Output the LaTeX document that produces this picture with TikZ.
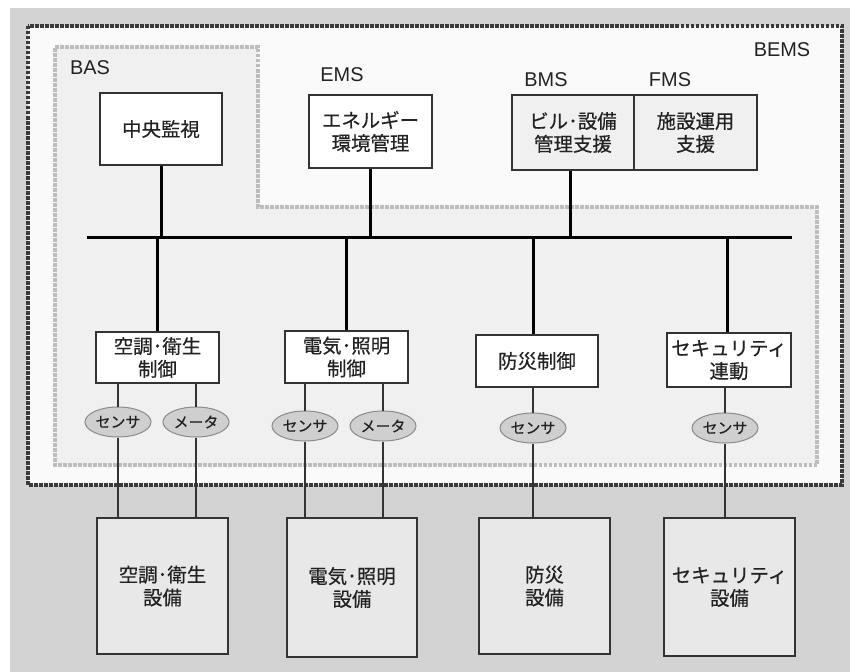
\documentclass[tikz,border=0pt]{standalone}
\usepackage{fontspec}
\setmainfont{Noto Sans CJK JP}[FakeBold=0.4]
\newfontfamily\latf{Liberation Sans}
\usetikzlibrary{shapes.geometric}
\definecolor{bggray}{HTML}{D3D3D3}
\definecolor{bemsfill}{HTML}{FAFAFA}
\definecolor{basfill}{HTML}{F0F0F0}
\definecolor{bemsline}{HTML}{3A3A3A}
\definecolor{basline}{HTML}{BDBDBD}
\definecolor{boxline}{HTML}{333333}
\definecolor{txt}{HTML}{222222}
\definecolor{equipfill}{HTML}{E8E8E8}
\definecolor{bmsfill}{HTML}{F0F0F0}
\definecolor{sensfill}{HTML}{CFCFCF}
\definecolor{sensline}{HTML}{8A8A8A}
\tikzset{
  bemsframe/.style={draw=bemsline, line width=3.5bp, dash pattern=on 3.5bp off 1.5bp, fill=bemsfill},
  basframe/.style={draw=basline, line width=3.2bp, dash pattern=on 3.5bp off 1.5bp, fill=basfill},
  lbl/.style={font=\latf\fontsize{20}{22}\selectfont, text=txt, inner sep=0},
  box/.style={draw=boxline, line width=1.2bp, fill=white, text=txt, align=center, inner sep=0,
              font=\fontsize{19.5}{23}\selectfont},
  equip/.style={box, fill=equipfill},
  bmsbox/.style={box, fill=bmsfill, minimum width=122bp, minimum height=75bp},
  sensor/.style={ellipse, draw=sensline, line width=1bp, fill=sensfill, text=txt, inner sep=0,
                 minimum width=66bp, minimum height=30bp, font=\fontsize{15}{17}\selectfont},
  busline/.style={line width=3bp, black},
  wire/.style={line width=2bp, boxline}
}
\begin{document}
\begin{tikzpicture}[x=1bp,y=-1bp]
\useasboundingbox (0,0) rectangle (850,672);
\fill[white] (0,0) rectangle (850,672);
\fill[bggray] (10,8) rectangle (850,672);
\draw[bemsframe] (28,26) rectangle (842,485);
\draw[basframe] (55,47) -- (258,47) -- (258,207) -- (817,207) -- (817,465) -- (55,465) -- cycle;

% labels
\node[lbl] (lbas) at (90,68) {BAS};
\node[lbl] (lems) at (342,75) {EMS};
\node[lbl] (lbems) at (782,50) {BEMS};
\node[lbl] (lbms) at (546,80) {BMS};
\node[lbl] (lfms) at (670,80) {FMS};

% upper boxes
\node[box, minimum width=122bp, minimum height=72bp] (cm) at (161,129) {中央監視};
\node[box, minimum width=123bp, minimum height=73bp] (ems) at (370.5,131.5) {エネルギー\\環境管理};
\node[bmsbox] (bms) at (573,132.5) {ビル･設備\\管理支援};
\node[bmsbox, minimum width=123bp] (fms) at (695.5,132.5) {施設運用\\支援};

% bus
\coordinate (busL) at (87,237);
\coordinate (busR) at (792,237);
\draw[busline] (busL) -- (busR);
\draw[busline] (cm.south) -- (cm.south |- busL);
\draw[busline] (ems.south) -- (ems.south |- busL);
\draw[busline] ([xshift=-3bp]bms.south) -- ([xshift=-3bp]bms.south |- busL);

% controllers
\node[box, minimum width=123bp, minimum height=51bp] (c1) at (157.5,357.5) {空調･衛生\\制御};
\node[box, minimum width=123bp, minimum height=52bp] (c2) at (346.5,357) {電気･照明\\制御};
\node[box, minimum width=122bp, minimum height=52bp] (c3) at (537,361) {防災制御};
\node[box, minimum width=124bp, minimum height=54bp] (c4) at (729,360) {セキュリティ\\連動};
\draw[busline] (c1.north) -- (c1.north |- busL);
\draw[busline] (c2.north) -- (c2.north |- busL);
\draw[busline] ([xshift=-4bp]c3.north) -- ([xshift=-4bp]c3.north |- busL);
\draw[busline] ([xshift=-2bp]c4.north) -- ([xshift=-2bp]c4.north |- busL);

% equipment
\node[equip, minimum width=131bp, minimum height=136bp] (e1) at (162.5,586) {空調･衛生\\設備};
\node[equip, minimum width=130bp, minimum height=139bp] (e2) at (352,587.5) {電気･照明\\設備};
\node[equip, minimum width=131bp, minimum height=136bp] (e3) at (544.5,586) {防災\\設備};
\node[equip, minimum width=131bp, minimum height=138bp] (e4) at (729.5,587) {セキュリティ\\設備};

% sensors
\node[sensor] (s1) at (118,422) {センサ};
\node[sensor] (m1) at (196,422) {メータ};
\node[sensor] (s2) at (305,426) {センサ};
\node[sensor] (m2) at (383,426) {メータ};
\node[sensor] (s3) at (533,428) {センサ};
\node[sensor] (s4) at (725,428) {センサ};

\draw[wire] (s1.north) -- (s1.north |- c1.south);
\draw[wire] (m1.north) -- (m1.north |- c1.south);
\draw[wire] (s2.north) -- (s2.north |- c2.south);
\draw[wire] (m2.north) -- (m2.north |- c2.south);
\draw[wire] (s3.north) -- (s3.north |- c3.south);
\draw[wire] (s4.north) -- (s4.north |- c4.south);

\draw[wire] (s1.south) -- (s1.south |- e1.north);
\draw[wire] (m1.south) -- (m1.south |- e1.north);
\draw[wire] (s2.south) -- (s2.south |- e2.north);
\draw[wire] (m2.south) -- (m2.south |- e2.north);
\draw[wire] (s3.south) -- (s3.south |- e3.north);
\draw[wire] (s4.south) -- (s4.south |- e4.north);
\end{tikzpicture}
\end{document}
